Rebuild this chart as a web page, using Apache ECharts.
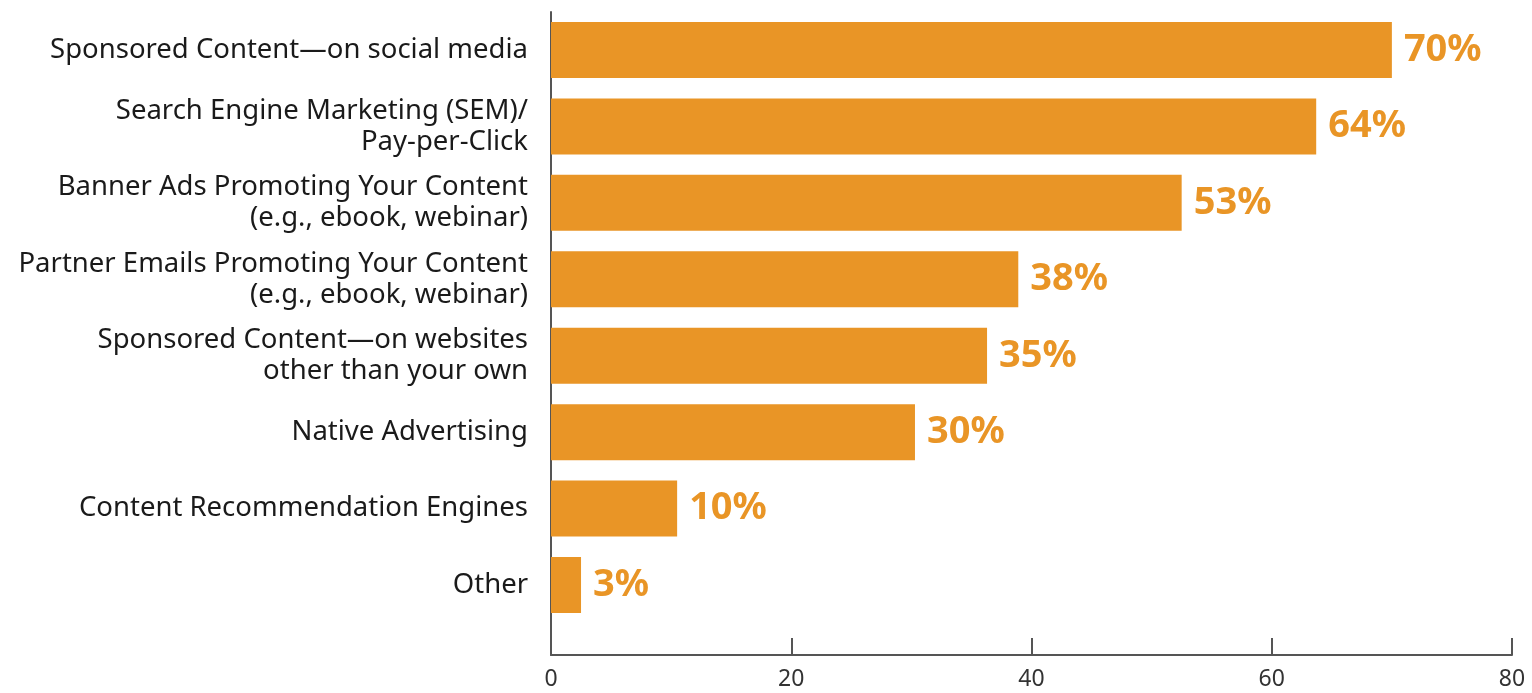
<!DOCTYPE html>
<html>
<head>
<meta charset="utf-8">
<script src="https://cdn.jsdelivr.net/npm/echarts@6/dist/echarts.min.js"></script>
<style>
html,body{margin:0;padding:0;background:#fff;}
#chart{width:1532px;height:693px;}
</style>
</head>
<body>
<div id="chart"></div>
<script>
var categories = [
  "Sponsored Content\u2014on social media",
  "Search Engine Marketing (SEM)/\nPay-per-Click",
  "Banner Ads Promoting Your Content\n(e.g., ebook, webinar)",
  "Partner Emails Promoting Your Content\n(e.g., ebook, webinar)",
  "Sponsored Content\u2014on websites\nother than your own",
  "Native Advertising",
  "Content Recommendation Engines",
  "Other"
];
var barValues = [70.0, 63.7, 52.5, 38.9, 36.3, 30.3, 10.5, 2.5];
var valueLabels = ["70%", "64%", "53%", "38%", "35%", "30%", "10%", "3%"];
var xTicks = [0, 20, 40, 60, 80];

var chart = echarts.init(document.getElementById('chart'));
var fontFam = '"Noto Sans", "Open Sans", sans-serif';
chart.setOption({
  animation: false,
  grid: [
    {left: 551, right: 20, top: 11.8, height: 611.4},
    {left: 551, right: 20, top: 12, bottom: 38}
  ],
  xAxis: [
    {gridIndex: 0, type: 'value', min: 0, max: 80, interval: 20, show: false},
    {gridIndex: 1, type: 'value', min: xTicks[0], max: xTicks[xTicks.length-1], interval: 20,
     axisLine: {show: true, lineStyle: {color: '#555', width: 2}},
     axisTick: {show: true, inside: true, length: 17, lineStyle: {color: '#555', width: 2}},
     axisLabel: {color: '#333', fontSize: 23, fontFamily: fontFam, margin: 13},
     splitLine: {show: false}}
  ],
  yAxis: [
    {gridIndex: 0, type: 'category', data: categories, inverse: true,
     axisLine: {show: false}, axisTick: {show: false},
     axisLabel: {color: '#1a1a1a', fontSize: 27.5, fontFamily: fontFam, margin: 23, lineHeight: 31, align: 'right'}},
    {gridIndex: 1, type: 'value', min: 0, max: 1,
     axisLine: {show: true, lineStyle: {color: '#555', width: 2}},
     axisTick: {show: false}, axisLabel: {show: false}, splitLine: {show: false}}
  ],
  series: [{
    type: 'bar',
    xAxisIndex: 0, yAxisIndex: 0,
    data: barValues,
    barWidth: 56,
    itemStyle: {color: '#E99526'},
    label: {
      show: true, position: 'right', distance: 12,
      formatter: function(p){ return valueLabels[p.dataIndex]; },
      color: '#E99526', fontSize: 38, fontWeight: 'bold', fontFamily: fontFam
    }
  }]
});
</script>
</body>
</html>
